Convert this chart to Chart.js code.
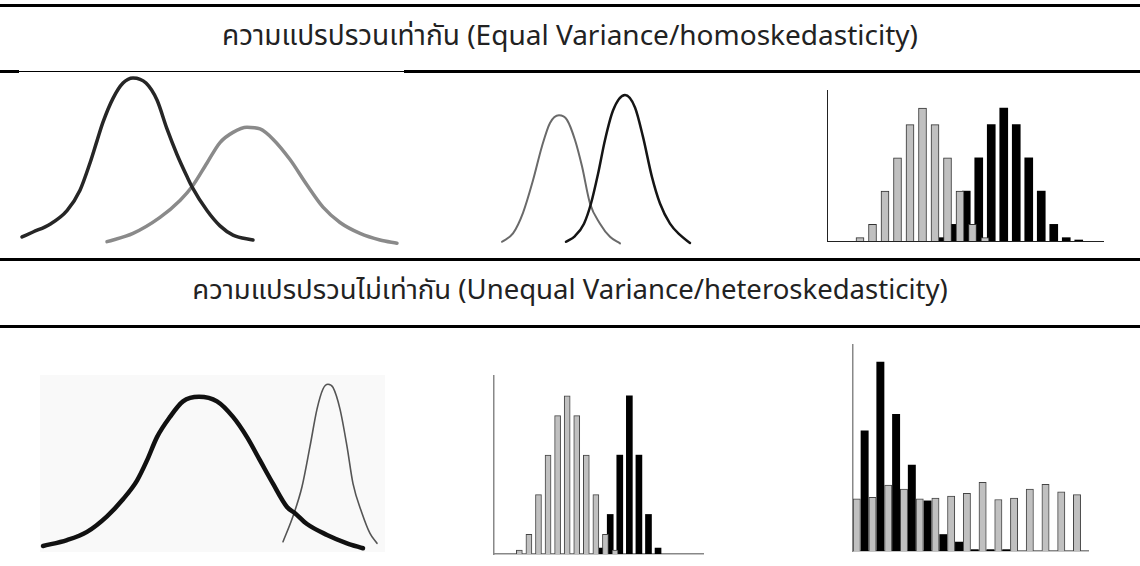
<!DOCTYPE html>
<html>
<head>
<meta charset="utf-8">
<script src="https://cdn.jsdelivr.net/npm/chart.js@4/dist/chart.umd.min.js"></script>
<style>
  html, body { margin: 0; padding: 0; background: #fff; }
  body { position: relative; width: 1140px; height: 566px; overflow: hidden;
         font-family: "Noto Sans Thai", "Noto Sans", "DejaVu Sans", sans-serif; color: #222; }
  .rule { position: absolute; background: #000; }
  .head { position: absolute; left: 0; width: 1140px; text-align: center; font-size: 28px; line-height: 40px; white-space: nowrap; }
  .box { position: absolute; }
</style>
</head>
<body>
<div class="rule" style="left:0;top:4px;width:1140px;height:3px"></div>
<div class="head" style="top:17px">ความแปรปรวนเท่ากัน (Equal Variance/homoskedasticity)</div>
<div class="rule" style="left:0;top:70px;width:19px;height:3px"></div>
<div class="rule" style="left:19px;top:71px;width:385px;height:1px"></div>
<div class="rule" style="left:404px;top:70px;width:736px;height:3px"></div>

<div class="box" style="left:0;top:72px;width:420px;height:176px"><canvas id="eqWide"></canvas></div>
<div class="box" style="left:495px;top:85px;width:205px;height:165px"><canvas id="eqNarrow"></canvas></div>
<div class="box" style="left:822px;top:86px;width:286px;height:160px"><canvas id="eqHist"></canvas></div>

<div class="rule" style="left:0;top:258px;width:1140px;height:3px"></div>
<div class="head" style="top:271px;font-size:27.5px">ความแปรปรวนไม่เท่ากัน (Unequal Variance/heteroskedasticity)</div>
<div class="rule" style="left:0;top:325px;width:1140px;height:3px"></div>

<div class="box" style="left:40px;top:375px;width:345px;height:177px;background:#f9f9f9"><canvas id="uneqCurves"></canvas></div>
<div class="box" style="left:489px;top:372px;width:219px;height:187px"><canvas id="uneqHist"></canvas></div>
<div class="box" style="left:848px;top:341px;width:245px;height:215px"><canvas id="skewHist"></canvas></div>

<script>
// equal variance, wide curves
const eqWideDarkX = [2.2, 3.3, 5.0, 6.7, 8.0, 9.0, 9.7, 10.3, 11.3, 12.3, 13.3, 14.6, 15.7, 16.7, 17.7, 18.7, 19.2, 20.7, 22.0, 23.3, 25.3];
const eqWideDarkY = [0.065, 0.094, 0.14, 0.22, 0.34, 0.50, 0.63, 0.74, 0.88, 0.97, 1.0, 0.97, 0.87, 0.70, 0.55, 0.42, 0.36, 0.22, 0.13, 0.076, 0.047];
const eqWideGrayX = [10.7, 13.3, 16.0, 18.0, 19.2, 20.7, 22.0, 23.3, 24.7, 26.0, 27.3, 29.0, 30.7, 32.3, 34.0, 36.0, 38.0, 39.7];
const eqWideGrayY = [0.037, 0.086, 0.18, 0.28, 0.36, 0.50, 0.62, 0.68, 0.71, 0.70, 0.64, 0.52, 0.37, 0.24, 0.15, 0.086, 0.047, 0.028];

// equal variance, narrow curves
const eqNarrowGrayX = [0.7, 1.8, 2.8, 3.8, 4.7, 5.5, 6.4, 7.2, 8.0, 8.7, 9.5, 10.5, 11.5, 12.5];
const eqNarrowGrayY = [0.053, 0.107, 0.24, 0.45, 0.67, 0.82, 0.87, 0.84, 0.71, 0.54, 0.30, 0.17, 0.085, 0.043];
const eqNarrowDarkX = [7.1, 8.0, 8.9, 9.6, 10.3, 11.0, 11.8, 13.0, 14.0, 14.8, 15.7, 16.5, 17.5, 18.5, 19.5];
const eqNarrowDarkY = [0.053, 0.09, 0.17, 0.30, 0.49, 0.71, 0.90, 1.0, 0.92, 0.73, 0.47, 0.30, 0.17, 0.097, 0.045];

// equal variance histogram (gray bins on whole steps, black on half steps)
const eqHistGrayX = [0, 1, 2, 3, 4, 5, 6, 7, 8, 9, 10];
const eqHistGray = [0.2, 1, 3, 5, 7, 8, 7, 5, 3, 1, 0.2];
const eqHistBlackX = [6.5, 7.5, 8.5, 9.5, 10.5, 11.5, 12.5, 13.5, 14.5, 15.5, 16.5, 17.5];
const eqHistBlack = [0.2, 1, 3, 5, 7, 8, 7, 5, 3, 1, 0.2, 0.06];

// unequal variance curves
const uneqWideX = [0.3, 2.7, 4.7, 6.7, 8.3, 9.7, 10.7, 11.7, 13.0, 14.3, 15.9, 17.7, 19.3, 20.7, 22.0, 23.3, 24.7, 25.5, 26.7, 28.7, 30.7, 32.3];
const uneqWideY = [0.039, 0.077, 0.13, 0.23, 0.34, 0.46, 0.59, 0.74, 0.87, 0.97, 1.0, 0.97, 0.87, 0.74, 0.59, 0.44, 0.29, 0.25, 0.18, 0.11, 0.056, 0.024];
const uneqNarrowX = [24.3, 25.3, 26.2, 27.0, 27.7, 28.3, 28.8, 29.3, 30.0, 30.7, 31.3, 32.2, 33.0, 33.7];
const uneqNarrowY = [0.066, 0.23, 0.42, 0.68, 0.92, 1.05, 1.08, 1.06, 0.92, 0.68, 0.44, 0.25, 0.12, 0.056];

// unequal variance histogram
const uneqHistGrayX = [0, 1, 2, 3, 4, 5, 6, 7, 8, 9, 10];
const uneqHistGray = [0.2, 1, 3, 5, 7, 8, 7, 5, 3, 1, 0.2];
const uneqHistBlackX = [8.5, 9.5, 10.5, 11.5, 12.5, 13.5, 14.5];
const uneqHistBlack = [0.3, 2, 5, 8, 5, 2, 0.3];

// skewed vs flat histogram
const skewGrayX = [0, 1, 2, 3, 4, 5, 6, 7, 8, 9, 10, 11, 12, 13, 14];
const skewGray = [7.6, 7.8, 9.6, 9.0, 7.6, 7.7, 8.0, 8.4, 10.0, 7.5, 7.7, 9.0, 9.7, 8.6, 8.2];
const skewBlackX = [0.5, 1.5, 2.5, 3.5, 4.5, 5.5, 6.5, 7.5, 8.5, 9.5];
const skewBlack = [17.5, 27.5, 19.9, 12.5, 7.3, 2.4, 1.3, 0.2, 0.2, 0.2];

function pts(xs, ys) {
  return xs.map((x, i) => ({ x: x, y: ys[i] }));
}

const base = {
  responsive: true,
  maintainAspectRatio: false,
  animation: false,
  events: [],
  plugins: { legend: { display: false }, tooltip: { enabled: false } }
};

function curve(xs, ys, color, width) {
  return {
    data: pts(xs, ys),
    borderColor: color,
    borderWidth: width,
    pointRadius: 0,
    fill: false,
    cubicInterpolationMode: "monotone",
    borderCapStyle: "round",
    clip: false
  };
}

function curveChart(id, datasets, xMax, yMax) {
  new Chart(document.getElementById(id), {
    type: "line",
    data: { datasets: datasets },
    options: {
      ...base,
      layout: { padding: 0 },
      scales: {
        x: { type: "linear", min: 0, max: xMax, display: false },
        y: { min: 0, max: yMax, display: false }
      }
    }
  });
}

function histChart(id, grayX, gray, blackX, black, opts) {
  new Chart(document.getElementById(id), {
    type: "bar",
    data: {
      datasets: [
        {
          data: pts(grayX, gray),
          backgroundColor: "#c0c0c0",
          borderColor: opts.edge,
          borderWidth: 1,
          barThickness: opts.bar
        },
        {
          data: pts(blackX, black),
          backgroundColor: "#000",
          borderWidth: 0,
          barThickness: opts.bar
        }
      ]
    },
    options: {
      ...base,
      layout: { padding: { left: 5, top: 4, right: 5, bottom: 5 } },
      datasets: { bar: { grouped: false } },
      scales: {
        x: {
          type: "linear", min: opts.xMin, max: opts.xMax, offset: false,
          ticks: { display: false },
          grid: { display: false, drawTicks: false },
          border: { display: true, color: opts.axis, width: opts.axisWidth }
        },
        y: {
          min: 0, max: opts.yMax,
          ticks: { display: false },
          grid: { display: false, drawTicks: false },
          border: { display: true, color: opts.axis, width: opts.axisWidth }
        }
      }
    }
  });
}

curveChart("eqWide", [
  curve(eqWideDarkX, eqWideDarkY, "#262626", 3.5),
  curve(eqWideGrayX, eqWideGrayY, "#8a8a8a", 3.5)
], 42, 1.035);

curveChart("eqNarrow", [
  curve(eqNarrowDarkX, eqNarrowDarkY, "#151515", 2.5),
  curve(eqNarrowGrayX, eqNarrowGrayY, "#6a6a6a", 2)
], 20.5, 1.065);

curveChart("uneqCurves", [
  curve(uneqWideX, uneqWideY, "#111", 4.5),
  curve(uneqNarrowX, uneqNarrowY, "#555", 1.6)
], 34.5, 1.14);

histChart("eqHist", eqHistGrayX, eqHistGray, eqHistBlackX, eqHistBlack,
  { xMin: -2.64, xMax: 19.44, yMax: 9.08, bar: 8, edge: "#333", axis: "#222", axisWidth: 1 });

histChart("uneqHist", uneqHistGrayX, uneqHistGray, uneqHistBlackX, uneqHistBlack,
  { xMin: -2.65, xMax: 19.2, yMax: 9.0, bar: 6, edge: "#444", axis: "#888", axisWidth: 1.5 });

histChart("skewHist", skewGrayX, skewGray, skewBlackX, skewBlack,
  { xMin: -0.24, xMax: 14.7, yMax: 30, bar: 7.3, edge: "#444", axis: "#888", axisWidth: 1.5 });
</script>
</body>
</html>
